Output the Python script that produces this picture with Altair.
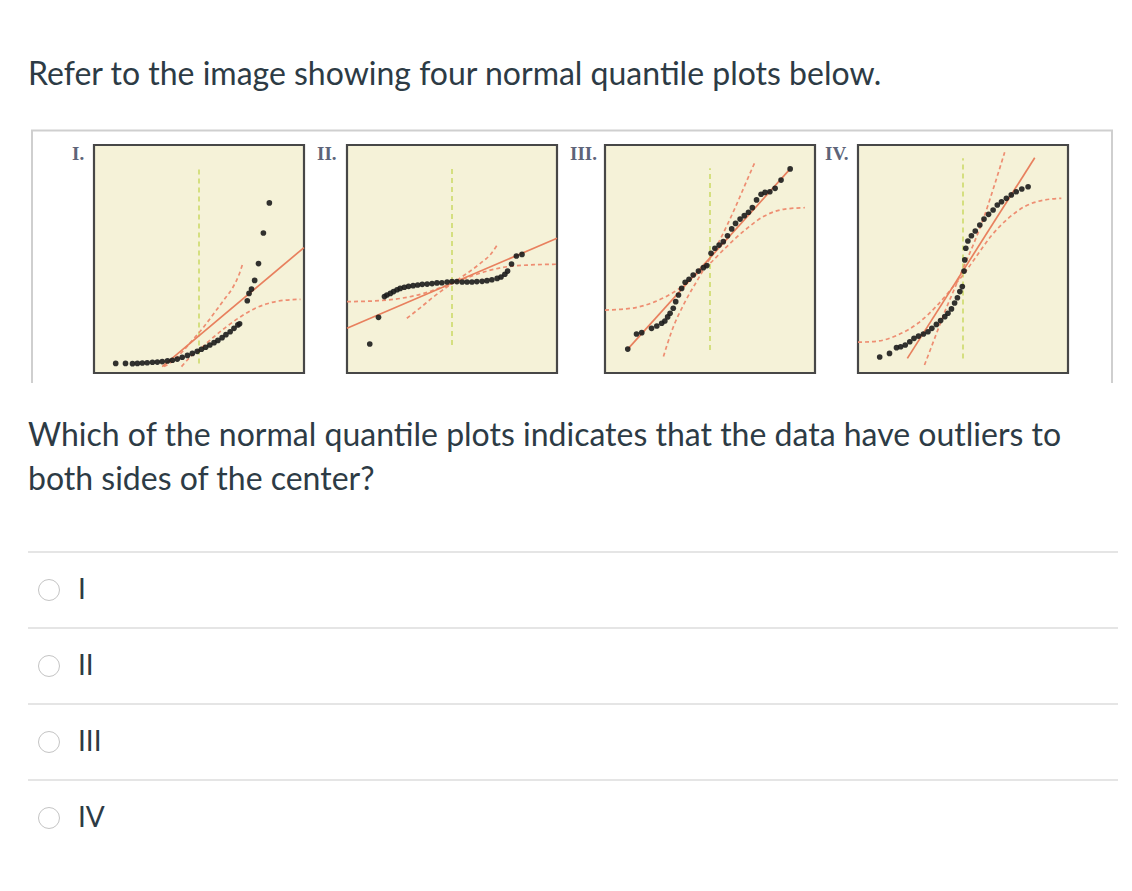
import altair as alt
import pandas as pd

TEXT = "#2D3B45"
BG = "#F5F2D8"
BORDER = "#474747"
FIT = "#E8805E"
BAND = "#EE8E72"
GREEN = "#CDDA6A"

TITLE = "Refer to the image showing four normal quantile plots below."
QUESTION_1 = "Which of the normal quantile plots indicates that the data have outliers to"
QUESTION_2 = "both sides of the center?"
PANEL_LABELS = ["I.", "II.", "III.", "IV."]
OPTIONS = ["I", "II", "III", "IV"]

# ---- Panel I (right skewed) ----
p1_z = [-2.38, -2.10, -1.90, -1.76, -1.62, -1.48, -1.33, -1.19, -1.05, -0.90, -0.76, -0.62, -0.48,
        -0.33, -0.19, -0.05, 0.07, 0.19, 0.31, 0.43, 0.54, 0.66, 0.77, 0.89, 1.00, 1.11, 1.16,
        1.38, 1.43, 1.50, 1.59, 1.70, 1.84, 2.01]
p1_y = [4.2, 4.2, 4.1, 4.2, 4.4, 4.5, 4.7, 4.8, 5.0, 5.3, 5.6, 6.1, 6.9,
        7.7, 8.6, 9.5, 10.4, 11.3, 12.3, 13.3, 14.3, 15.5, 16.8, 18.1, 19.6, 21.1, 21.6,
        31.7, 34.9, 36.8, 40.6, 48.0, 61.4, 74.6]
p1_fit_z = [-1.05, 3.0]
p1_fit_y = [2.8, 55.0]
p1_a_z = [-1.00, -0.71, -0.43, -0.14, 0.14, 0.43, 0.71, 0.95, 1.14, 1.26]
p1_a_y = [2.8, 5.7, 10.1, 15.2, 20.3, 26.2, 32.0, 37.1, 43.0, 48.5]
p1_b_z = [-0.50, -0.24, 0.05, 0.43, 0.81, 1.19, 1.57, 1.95, 2.43, 2.90]
p1_b_y = [2.8, 7.2, 10.8, 15.9, 20.6, 24.7, 28.1, 30.4, 31.9, 32.3]
p1_green = [4.2, 90.4]

# ---- Panel II (heavy tails) ----
p2_z = [-2.35, -2.10, -1.93, -1.86, -1.76, -1.67, -1.57, -1.48, -1.36, -1.24, -1.11, -0.98, -0.85,
        -0.71, -0.57, -0.43, -0.29, -0.14, 0.00, 0.14, 0.29, 0.43, 0.57, 0.71, 0.86, 1.00, 1.14,
        1.29, 1.40, 1.51, 1.59, 1.70, 1.84, 2.00]
p2_y = [12.7, 24.4, 33.5, 34.2, 34.9, 35.7, 36.5, 37.1, 37.6, 38.0, 38.3, 38.6, 38.9,
        39.0, 39.2, 39.5, 39.6, 39.9, 40.1, 40.1, 39.9, 39.9, 39.9, 40.1, 40.2, 40.5, 40.9,
        41.5, 42.1, 43.3, 44.7, 47.8, 51.3, 52.0]
p2_fit_z = [-3.0, 3.0]
p2_fit_y = [19.6, 59.1]
p2_a_z = [-1.29, -0.90, -0.52, 0.00, 0.43, 0.81, 1.10, 1.29]
p2_a_y = [24.0, 28.7, 33.5, 39.3, 43.7, 48.1, 52.0, 56.1]
p2_b_z = [-3.0, -2.24, -1.48, -0.81, -0.33, 0.00, 0.43, 1.00, 1.57, 2.24, 3.0]
p2_b_y = [31.3, 31.6, 32.7, 34.9, 37.4, 39.3, 41.8, 44.7, 46.6, 47.4, 47.7]
p2_green = [12.3, 90.5]

# ---- Panel III (roughly normal) ----
p3_z = [-2.35, -2.10, -1.95, -1.67, -1.52, -1.38, -1.29, -1.21, -1.14, -1.05, -0.98, -0.90, -0.81,
        -0.71, -0.60, -0.48, -0.33, -0.19, -0.09, 0.03, 0.14, 0.26, 0.38, 0.50, 0.62, 0.73, 0.86,
        0.98, 1.10, 1.21, 1.33, 1.46, 1.57, 1.71, 1.86, 2.03, 2.29]
p3_y = [10.5, 17.1, 17.7, 19.6, 20.6, 21.8, 22.8, 24.6, 26.2, 28.4, 31.3, 34.2, 37.1,
        39.8, 41.1, 43.0, 44.7, 46.2, 47.1, 52.5, 54.7, 56.1, 57.6, 60.2, 63.2, 65.6, 67.5,
        69.0, 70.5, 72.5, 75.9, 78.4, 79.2, 79.5, 81.0, 84.6, 89.5]
p3_fit_z = [-2.35, 2.29]
p3_fit_y = [10.5, 89.5]
p3_a_z = [-1.33, -1.10, -0.71, -0.33, 0.00, 0.33, 0.71, 1.00, 1.29]
p3_a_y = [7.2, 18.1, 31.3, 41.5, 50.3, 59.8, 72.2, 82.5, 92.7]
p3_b_z = [-3.0, -2.24, -1.57, -0.90, -0.43, 0.00, 0.43, 1.00, 1.57, 2.14, 2.71]
p3_b_y = [27.6, 28.4, 31.3, 36.8, 42.7, 48.1, 54.7, 62.7, 69.0, 71.9, 72.5]
p3_green = [10.1, 89.8]

# ---- Panel IV (light tails) ----
p4_z = [-2.38, -2.10, -1.90, -1.78, -1.65, -1.52, -1.40, -1.27, -1.13, -1.00, -0.89, -0.76, -0.64,
        -0.52, -0.43, -0.33, -0.24, -0.16, -0.09, -0.02, 0.03, 0.05, 0.08, 0.14, 0.24, 0.35, 0.48,
        0.60, 0.73, 0.86, 0.98, 1.10, 1.24, 1.38, 1.52, 1.68, 1.86]
p4_y = [7.0, 8.6, 11.1, 11.5, 12.3, 13.7, 15.2, 16.2, 17.1, 18.1, 19.6, 21.3, 23.0,
        24.7, 26.2, 28.1, 30.7, 33.0, 35.7, 37.9, 44.7, 49.6, 54.7, 57.9, 60.2, 62.3, 64.9,
        67.5, 69.6, 71.5, 73.7, 75.1, 76.6, 78.1, 79.5, 80.7, 81.7]
p4_fit_z = [-1.59, 2.05]
p4_fit_y = [6.4, 94.4]
p4_a_z = [-1.10, -0.81, -0.52, -0.24, 0.00, 0.29, 0.62, 0.90, 1.19]
p4_a_y = [3.5, 15.2, 26.9, 37.1, 45.9, 56.1, 69.3, 82.5, 96.8]
p4_b_z = [-3.0, -2.43, -1.86, -1.29, -0.71, -0.24, 0.00, 0.33, 0.81, 1.29, 1.76, 2.33, 2.81]
p4_b_y = [13.5, 14.0, 16.7, 21.8, 30.1, 38.6, 43.0, 50.0, 60.2, 67.8, 73.0, 75.9, 76.6]
p4_green = [6.4, 94.2]

PANELS = [
    (p1_z, p1_y, p1_fit_z, p1_fit_y, p1_a_z, p1_a_y, p1_b_z, p1_b_y, p1_green),
    (p2_z, p2_y, p2_fit_z, p2_fit_y, p2_a_z, p2_a_y, p2_b_z, p2_b_y, p2_green),
    (p3_z, p3_y, p3_fit_z, p3_fit_y, p3_a_z, p3_a_y, p3_b_z, p3_b_y, p3_green),
    (p4_z, p4_y, p4_fit_z, p4_fit_y, p4_a_z, p4_a_y, p4_b_z, p4_b_y, p4_green),
]
# layout (pixel ranges of each panel box inside the chart, and label x)
PANEL_XRANGE = [[86, 296], [339, 549], [597, 807], [850, 1060]]
PANEL_YRANGE = [365, 137]
LABEL_X = [64, 309, 562, 817]


def panel(idx):
    pz, py, fz, fy, az, ay, bz, by, gy = PANELS[idx]
    xs = alt.Scale(domain=[-3, 3], range=PANEL_XRANGE[idx], nice=False, zero=False)
    ys = alt.Scale(domain=[0, 100], range=PANEL_YRANGE, nice=False, zero=False)
    X = lambda f: alt.X(f, type="quantitative", scale=xs, axis=None)
    Y = lambda f: alt.Y(f, type="quantitative", scale=ys, axis=None)

    frame = pd.DataFrame({"z0": [-3], "z1": [3], "v0": [0], "v1": [100]})
    bg = alt.Chart(frame).mark_rect(fill=BG, stroke=BORDER, strokeWidth=2.2).encode(
        x=X("z0"), x2="z1", y=Y("v0"), y2="v1")

    green = alt.Chart(pd.DataFrame({"z": [0], "g0": [gy[0]], "g1": [gy[1]]})).mark_rule(
        color=GREEN, strokeWidth=1.6, strokeDash=[5, 4]).encode(x=X("z"), y=Y("g0"), y2="g1")

    bands_df = pd.concat([
        pd.DataFrame({"z": az, "v": ay, "band": "A"}),
        pd.DataFrame({"z": bz, "v": by, "band": "B"}),
    ])
    bands = alt.Chart(bands_df).mark_line(
        color=BAND, strokeWidth=1.7, strokeDash=[4, 3], interpolate="monotone").encode(
        x=X("z"), y=Y("v"), detail="band:N")

    fit = alt.Chart(pd.DataFrame({"z": fz, "v": fy})).mark_line(
        color=FIT, strokeWidth=1.7).encode(x=X("z"), y=Y("v"))

    pts = alt.Chart(pd.DataFrame({"z": pz, "v": py})).mark_circle(
        size=32, color="#1c1c1c", opacity=0.9).encode(x=X("z"), y=Y("v"))

    label = alt.Chart(pd.DataFrame({"t": [PANEL_LABELS[idx]]})).mark_text(
        align="left", baseline="alphabetic", font="Liberation Serif", fontSize=19,
        fontWeight="bold", color="#5d6479").encode(
        text="t:N", x=alt.value(LABEL_X[idx]), y=alt.value(152))

    return alt.layer(bg, green, bands, fit, pts, label)


one = pd.DataFrame({"a": [0]})

title = alt.Chart(pd.DataFrame({"t": [TITLE]})).mark_text(
    align="left", baseline="alphabetic", font="Lato", fontSize=32, color=TEXT).encode(
    text="t:N", x=alt.value(20), y=alt.value(77))

q1 = alt.Chart(pd.DataFrame({"t": [QUESTION_1]})).mark_text(
    align="left", baseline="alphabetic", font="Lato", fontSize=32, color=TEXT).encode(
    text="t:N", x=alt.value(20), y=alt.value(438))
q2 = alt.Chart(pd.DataFrame({"t": [QUESTION_2]})).mark_text(
    align="left", baseline="alphabetic", font="Lato", fontSize=32, color=TEXT).encode(
    text="t:N", x=alt.value(20), y=alt.value(482))

FRAME = "#cfcfcf"
frame_top = alt.Chart(one).mark_rule(color=FRAME, strokeWidth=2).encode(
    x=alt.value(23), x2=alt.value(1105), y=alt.value(122.5))
frame_left = alt.Chart(one).mark_rule(color=FRAME, strokeWidth=2).encode(
    x=alt.value(24), y=alt.value(122.5), y2=alt.value(375))
frame_right = alt.Chart(one).mark_rule(color=FRAME, strokeWidth=2).encode(
    x=alt.value(1104), y=alt.value(122.5), y2=alt.value(375))

opt_df = pd.DataFrame({"label": OPTIONS, "idx": list(range(len(OPTIONS)))})
oy = alt.Scale(domain=[0, 3], range=[582, 810], nice=False, zero=False)
opt_base = alt.Chart(opt_df)
opt_rules = opt_base.transform_calculate(sep="datum.idx - 0.5").mark_rule(
    color="#dcdcdc", strokeWidth=1.5).encode(
    y=alt.Y("sep:Q", scale=oy, axis=None), x=alt.value(20), x2=alt.value(1110))
opt_radio = opt_base.mark_circle(size=440, color="white", stroke="#c4c4c4", strokeWidth=1,
                                 opacity=1).encode(
    y=alt.Y("idx:Q", scale=oy, axis=None), x=alt.value(41))
opt_text = opt_base.mark_text(align="left", baseline="alphabetic", dy=8.5, font="Lato",
                              fontSize=28, color=TEXT).encode(
    y=alt.Y("idx:Q", scale=oy, axis=None), x=alt.value(70), text="label:N")
options = alt.layer(opt_rules, opt_radio, opt_text)

page = alt.layer(title, frame_top, frame_left, frame_right, q1, q2)

chart = alt.layer(page, options, panel(0), panel(1), panel(2), panel(3)).resolve_scale(
    x="independent", y="independent"
).properties(
    width=1116, height=875, padding=0, autosize=alt.AutoSizeParams(type="none"),
    background="white"
).configure_view(stroke=None)

chart.save("out.html", embed_options={"renderer": "svg", "actions": False})
